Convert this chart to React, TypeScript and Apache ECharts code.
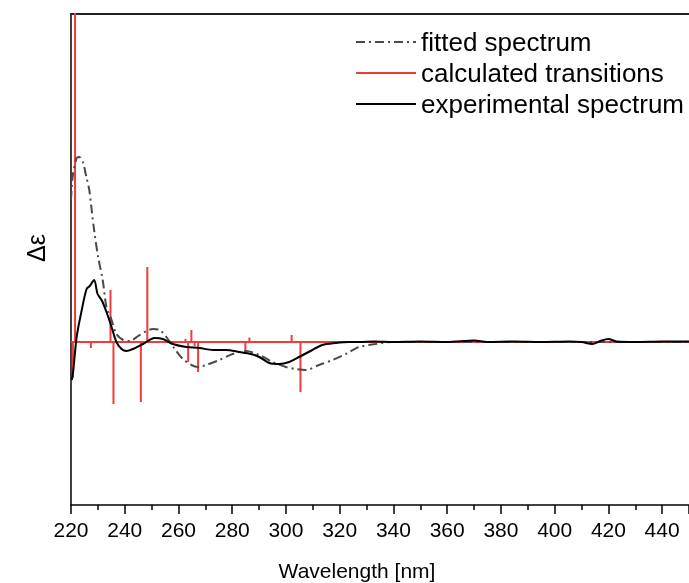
import React, { useEffect, useRef } from "react";
import * as echarts from "echarts";

// Wavelengths (nm) and Δε (arbitrary units)
const expWavelength = [220.3, 220.8, 222.1, 224.0, 225.8, 227.0, 228.6, 229.9, 231.4, 233.2, 235.1, 236.9, 238.8, 240.6, 243.1, 246.8, 251.1, 254.2, 257.9, 262.9, 267.8, 272.8, 277.7, 282.7, 287.0, 290.1, 293.8, 297.5, 301.2, 304.9, 309.8, 313.5, 318.5, 323.4, 327.2, 333, 340, 350, 360, 370, 375, 385, 395, 405, 410, 414, 417, 420, 423, 430, 440, 450];
const expValues = [-3.8, -3.0, 0.5, 3.2, 5.3, 5.6, 6.2, 4.8, 4.2, 3.0, 1.5, 0.0, -0.7, -0.9, -0.7, -0.2, 0.4, 0.3, -0.2, -0.5, -0.6, -0.8, -0.8, -1.0, -1.2, -1.5, -2.1, -2.2, -2.0, -1.5, -0.8, -0.3, -0.1, 0.0, 0.0, 0.05, 0.0, 0.05, 0.0, 0.15, 0.0, 0.05, 0.0, 0.05, 0.0, -0.2, 0.1, 0.3, 0.05, 0.0, 0.05, 0.05];

const fitWavelength = [220.0, 220.7, 222.1, 223.0, 224.4, 225.8, 226.8, 227.7, 228.6, 230.1, 231.8, 233.2, 235.1, 236.9, 239.4, 241.9, 245.0, 248.1, 250.5, 253.0, 255.5, 258.6, 261.6, 264.8, 267.2, 270.3, 275.2, 280.2, 285.1, 290.1, 295.0, 300.0, 303.7, 307.4, 312.3, 317.3, 322.2, 327.2, 333.3, 339.5, 360, 400, 450];
const fitValues = [14.2, 16.7, 18.4, 18.5, 18.0, 16.4, 15.2, 13.2, 11.2, 8.5, 6.2, 3.5, 2.2, 0.8, 0.2, 0.1, 0.6, 1.1, 1.3, 1.2, 0.5, -0.7, -1.7, -2.3, -2.5, -2.3, -1.8, -1.2, -0.9, -1.3, -2.0, -2.5, -2.7, -2.8, -2.3, -1.8, -1.2, -0.5, -0.2, 0.0, 0.0, 0.0, 0.0];

const transWavelength = [220.7, 221.5, 227.4, 234.7, 235.8, 246.0, 248.4, 262.6, 263.6, 264.8, 266.0, 267.3, 284.9, 286.4, 302.1, 305.4];
const transValues = [-3.6, 45, -0.6, 5.2, -6.2, -6.0, 7.5, 0.3, -2.0, 1.2, -0.4, -3.0, -1.0, 0.45, 0.7, -5.0];

const xMin = 220;
const xMax = 450;
const xInterval = 20;

const FONT = 'Arial, "Liberation Sans", sans-serif';

export default function App() {
  const ref = useRef<HTMLDivElement>(null);

  useEffect(() => {
    if (!ref.current) return;
    const chart = echarts.init(ref.current, undefined, { renderer: "svg" });

    const expData = expWavelength.map((w, i) => [w, expValues[i]]);
    const fitData = fitWavelength.map((w, i) => [w, fitValues[i]]);
    const transData: number[][] = [[xMin, 0]];
    transWavelength.forEach((w, i) => {
      transData.push([w, 0], [w, transValues[i]], [w, 0]);
    });
    transData.push([xMax, 0]);

    chart.setOption({
      animation: false,
      grid: { left: 71, top: 14, bottom: 78, width: 620 },
      legend: {
        orient: "vertical",
        left: 350,
        top: 24,
        itemWidth: 60,
        itemHeight: 25,
        itemGap: 5,
        data: ["fitted spectrum", "calculated transitions", "experimental spectrum"],
        textStyle: { fontSize: 26, color: "#000", fontFamily: FONT },
        itemStyle: { opacity: 0 },
      },
      xAxis: [
        {
          type: "value",
          min: xMin,
          max: xMax,
          interval: xInterval,
          position: "bottom",
          axisLine: { show: true, onZero: false, lineStyle: { color: "#000", width: 1.5 } },
          axisTick: { show: true, length: 9, lineStyle: { color: "#000", width: 1.5 } },
          minorTick: { show: true, splitNumber: 2, length: 5, lineStyle: { color: "#000", width: 1.5 } },
          axisLabel: { fontSize: 21, color: "#000", fontFamily: FONT, margin: 14, showMaxLabel: false },
          splitLine: { show: false },
        },
        {
          type: "value",
          min: xMin,
          max: xMax,
          position: "top",
          axisLine: { show: true, onZero: false, lineStyle: { color: "#222", width: 2 } },
          axisTick: { show: false },
          axisLabel: { show: false },
          splitLine: { show: false },
        },
      ],
      yAxis: {
        type: "value",
        min: -16.3,
        max: 32.8,
        axisLine: { show: true, onZero: false, lineStyle: { color: "#000", width: 1.5 } },
        axisTick: { show: false },
        axisLabel: { show: false },
        splitLine: { show: false },
      },
      series: [
        {
          name: "calculated transitions",
          type: "line",
          data: transData,
          symbol: "none",
          lineStyle: { color: "#f03c3c", width: 2 },
          itemStyle: { color: "#f03c3c" },
          z: 2,
        },
        {
          name: "fitted spectrum",
          type: "line",
          data: fitData,
          symbol: "none",
          smooth: 0.3,
          lineStyle: { color: "#4a4a4a", width: 2, type: [9, 4, 2, 4] },
          itemStyle: { color: "#4a4a4a" },
          z: 3,
        },
        {
          name: "experimental spectrum",
          type: "line",
          data: expData,
          symbol: "none",
          smooth: 0.3,
          lineStyle: { color: "#000", width: 2 },
          itemStyle: { color: "#000" },
          z: 4,
        },
      ],
      graphic: [
        {
          type: "text",
          x: 357,
          y: 570,
          style: {
            text: "Wavelength [nm]",
            fontSize: 21,
            fontFamily: FONT,
            fill: "#000",
            align: "center",
            verticalAlign: "middle",
          },
        },
        {
          type: "text",
          x: 36,
          y: 248,
          rotation: Math.PI / 2,
          style: {
            text: "Δε",
            fontSize: 25,
            fontFamily: FONT,
            fill: "#000",
            align: "center",
            verticalAlign: "middle",
          },
        },
      ],
    });

    return () => chart.dispose();
  }, []);

  return (
    <div
      ref={ref}
      style={{ position: "fixed", left: 0, top: 0, width: 689, height: 583 }}
    />
  );
}
